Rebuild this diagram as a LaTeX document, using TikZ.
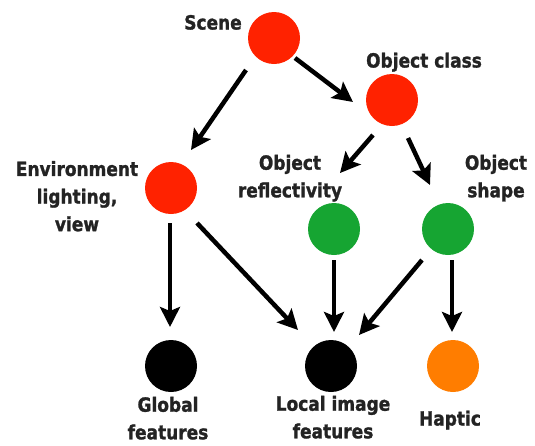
\documentclass[tikz,border=0pt]{standalone}
\usepackage{graphicx}
\usepackage{fontspec}
\setmainfont{DejaVu Sans}[BoldFeatures={FakeBold=1.4}]
\usetikzlibrary{arrows.meta,calc}
\definecolor{cred}{RGB}{255,34,0}
\definecolor{cgreen}{RGB}{22,165,50}
\definecolor{corange}{RGB}{255,125,0}
\definecolor{ctext}{RGB}{35,35,35}
\newcommand{\lbltext}[1]{\scalebox{1}[1.15]{\begin{tabular}{@{}c@{}}#1\end{tabular}}}
\begin{document}
\begin{tikzpicture}[x=1pt,y=-1pt,
  ball/.style={circle,minimum size=52pt,inner sep=0pt},
  lbl/.style={text=ctext,font=\fontsize{17}{24}\selectfont\bfseries,inner sep=0pt},
  arr/.style={line width=4.5pt,-{Stealth[length=20pt,width=20pt,inset=4pt]}}]
\useasboundingbox (0,0) rectangle (535,445);
% circles
\node[ball,fill=cred] (scene) at (274,38) {};
\node[ball,fill=cred] (oc) at (392,100) {};
\node[ball,fill=cred] (env) at (171,188) {};
\node[ball,fill=cgreen] (refl) at (334,229) {};
\node[ball,fill=cgreen] (shape) at (448,229) {};
\node[ball,fill=black] (glob) at (171,366) {};
\node[ball,fill=black] (loc) at (331,366) {};
\node[ball,fill=corange] (hap) at (453,366) {};
% labels
\node[lbl] (tscene) at (213,24) {\lbltext{Scene}};
\node[lbl] (toc) at (424,62) {\lbltext{Object class}};
\node[lbl] (tenv) at (77,198) {\lbltext{Environment\\lighting,\\view}};
\node[lbl] (trefl) at (290,178) {\lbltext{Object\\reflectivity}};
\node[lbl] (tshape) at (496,178) {\lbltext{Object\\shape}};
\node[lbl] (tglob) at (168,420) {\lbltext{Global\\features}};
\node[lbl] (tloc) at (333,419) {\lbltext{Local image\\features}};
\node[lbl] (thap) at (450,420) {\lbltext{Haptic}};
% arrows
\draw[arr] ($(scene)+(-28,32)$) -- ($(env)+(20,-38)$);
\draw[arr] ($(scene)+(21,20)$) -- ($(oc)+(-39,2)$);
\draw[arr] ($(oc)+(-19,35)$) -- ($(refl)+(6,-56)$);
\draw[arr] ($(oc)+(16,38)$) -- ($(shape)+(-18,-44)$);
\draw[arr] ($(env)+(-1,35)$) -- ($(glob)+(-1,-39)$);
\draw[arr] ($(env)+(26,35)$) -- ($(loc)+(-33,-36)$);
\draw[arr] ($(refl)+(0,31)$) -- ($(loc)+(3,-34)$);
\draw[arr] ($(shape)+(-26,31)$) -- ($(loc)+(28,-31)$);
\draw[arr] ($(shape)+(4,31)$) -- ($(hap)+(-1,-34)$);
\end{tikzpicture}
\end{document}
